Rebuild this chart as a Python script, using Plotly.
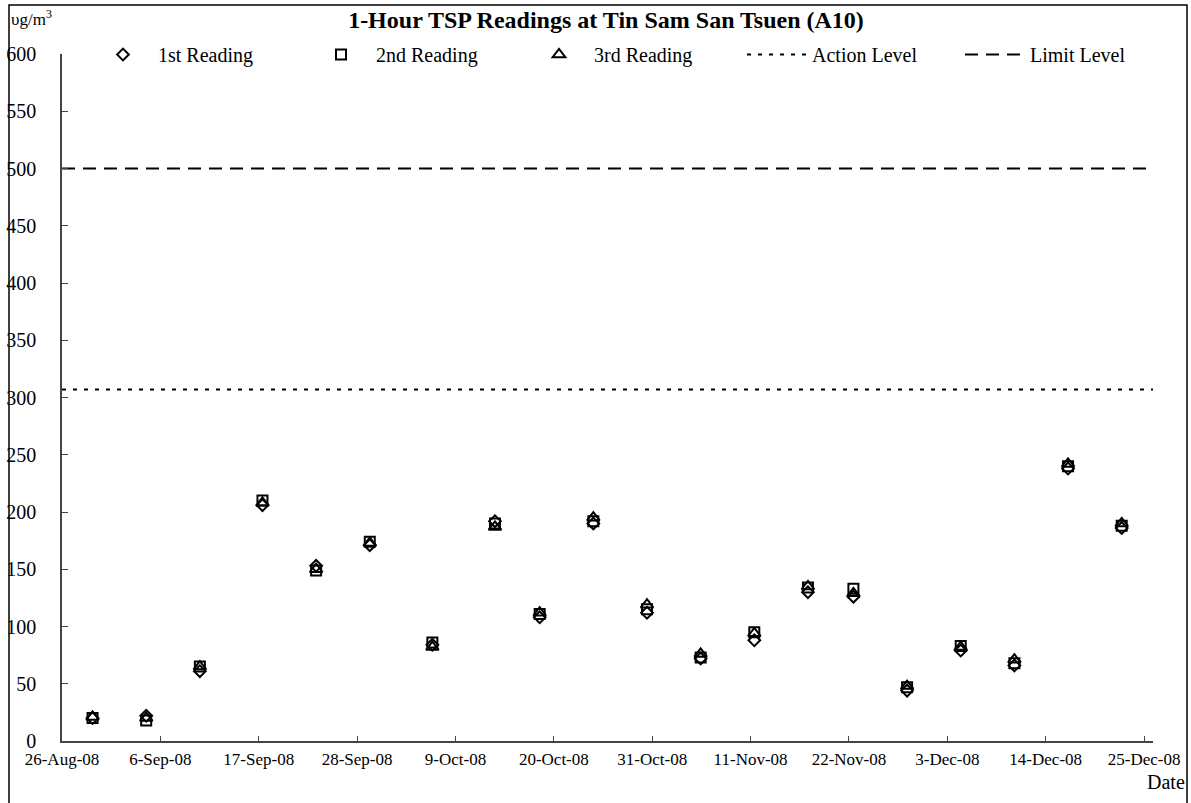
import plotly.graph_objects as go

# ---- data ----
dates = ["2008-08-29 10:00", "2008-09-04 10:00", "2008-09-10 10:00", "2008-09-17 10:00",
         "2008-09-23 10:00", "2008-09-29 10:00", "2008-10-06 10:00", "2008-10-13 10:00",
         "2008-10-18 10:00", "2008-10-24 10:00", "2008-10-30 10:00", "2008-11-05 10:00",
         "2008-11-11 10:00", "2008-11-17 10:00", "2008-11-22 12:00", "2008-11-28 12:00",
         "2008-12-04 12:00", "2008-12-10 12:00", "2008-12-16 12:00", "2008-12-22 12:00"]
reading1 = [20, 22, 61, 206, 153, 171, 84, 192, 108, 190, 112, 72, 88, 130, 126, 44, 79, 66, 238, 186]
reading2 = [20, 18, 65, 210, 149, 174, 86, 190, 111, 192, 115, 73, 95, 134, 133, 47, 83, 68, 240, 188]
reading3 = [21, 20, 65, 208, 150, 173, 82, 187, 112, 195, 119, 76, 94, 135, 129, 48, 82, 71, 242, 190]
action_level = 307
limit_level = 500
x_range = ["2008-08-26", "2008-12-26"]
y_range = [0, 600]

FONT = "Liberation Serif, Times New Roman, serif"

fig = go.Figure()
series = [("1st Reading", reading1, "diamond-open", 9),
          ("2nd Reading", reading2, "square-open", 10),
          ("3rd Reading", reading3, "triangle-up-open", 11)]
for name, vals, sym, size in series:
    fig.add_trace(go.Scatter(
        x=dates, y=vals, mode="markers", name=name,
        marker=dict(symbol=sym, size=size, color="black", line=dict(color="black", width=2)),
    ))

fig.add_trace(go.Scatter(x=x_range, y=[action_level, action_level], mode="lines",
                         name="Action Level",
                         line=dict(color="black", width=2, dash="4px,7px")))
fig.add_trace(go.Scatter(x=x_range, y=[limit_level, limit_level], mode="lines",
                         name="Limit Level",
                         line=dict(color="black", width=2, dash="13px,8px")))

L, R, T, B = 62, 38, 54, 62
W, H = 1191, 803
pw, ph = W - L - R, H - T - B

def px_x(px):
    return (px - L) / pw

def px_y(py):
    return (H - B - py) / ph

fig.update_layout(
    width=W, height=H,
    margin=dict(l=L, r=R, t=T, b=B, pad=0, autoexpand=False),
    paper_bgcolor="white", plot_bgcolor="white",
    font=dict(family=FONT, color="black", size=16),
    title=dict(text="<b>1-Hour TSP Readings at Tin Sam San Tsuen (A10)</b>",
               x=px_x(606), xanchor="center", xref="paper",
               y=1 - 20 / H, yanchor="middle", yref="container",
               font=dict(family=FONT, size=24, color="black")),
    showlegend=True,
    legend=dict(orientation="h", x=px_x(88), xanchor="left", y=px_y(35), yanchor="top",
                entrywidth=143, entrywidthmode="pixels", itemwidth=60,
                font=dict(family=FONT, size=20, color="black"),
                bgcolor="rgba(0,0,0,0)", tracegroupgap=0),
    xaxis=dict(type="date", range=x_range, tick0="2008-08-26", dtick=11 * 86400000,
               tickformat="%-d-%b-%y", ticks="inside", ticklen=5, tickcolor="#444",
               showline=True, linecolor="#444", linewidth=1.5, showgrid=False,
               zeroline=False, ticklabelstandoff=2,
               tickfont=dict(family=FONT, size=17, color="black")),
    yaxis=dict(range=y_range, dtick=50, ticks="inside", ticklen=6, tickcolor="#444",
               showline=True, linecolor="#444", linewidth=1.5, showgrid=False,
               zeroline=False, ticklabelstandoff=20,
               tickfont=dict(family=FONT, size=20, color="black")),
)

fig.add_annotation(text="υg/m<sup>3</sup>", xref="paper", yref="paper",
                   x=px_x(9), y=px_y(18), xanchor="left", yanchor="middle",
                   showarrow=False, font=dict(family=FONT, size=17, color="black"))
fig.add_annotation(text="Date", xref="paper", yref="paper",
                   x=px_x(1187), y=px_y(782), xanchor="right", yanchor="middle",
                   showarrow=False, font=dict(family=FONT, size=20, color="black"))

# outer frame
fig.add_shape(type="rect", xref="paper", yref="paper",
              x0=px_x(9), x1=px_x(1187), y0=px_y(830), y1=px_y(5),
              line=dict(color="black", width=1.5), fillcolor="rgba(0,0,0,0)", layer="below")

fig.write_html("out.html", config={"displayModeBar": False},
               post_script="document.body.style.margin='0';document.body.style.overflow='hidden';")
